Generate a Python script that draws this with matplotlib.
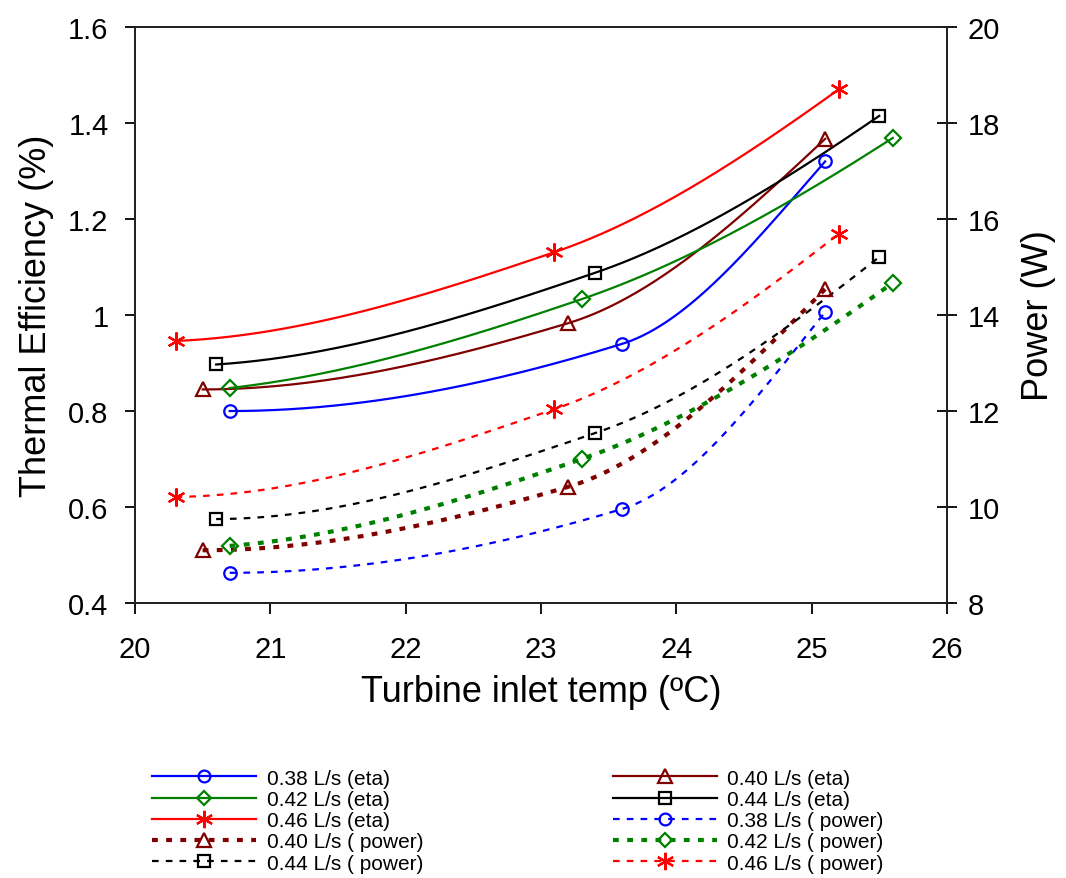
import numpy as np
import matplotlib
matplotlib.use("Agg")
import matplotlib.pyplot as plt
from matplotlib.lines import Line2D

plt.rcParams['font.family'] = ['Liberation Sans', 'DejaVu Sans']

# ---- data ----
x_038 = [20.7, 23.6, 25.1]
x_040 = [20.5, 23.2, 25.1]
x_042 = [20.7, 23.3, 25.6]
x_044 = [20.6, 23.4, 25.5]
x_046 = [20.3, 23.1, 25.2]

eta_038 = [0.80, 0.94, 1.32]
eta_040 = [0.845, 0.983, 1.367]
eta_042 = [0.848, 1.033, 1.369]
eta_044 = [0.897, 1.088, 1.415]
eta_046 = [0.946, 1.131, 1.470]

pow_038 = [8.63, 9.96, 14.06]
pow_040 = [9.10, 10.42, 14.54]
pow_042 = [9.19, 11.00, 14.67]
pow_044 = [9.75, 11.54, 15.21]
pow_046 = [10.21, 12.04, 15.69]

x_ticks = [20, 21, 22, 23, 24, 25, 26]
eta_ticks = [0.4, 0.6, 0.8, 1.0, 1.2, 1.4, 1.6]
eta_tick_labels = ['0.4', '0.6', '0.8', '1', '1.2', '1.4', '1.6']
pow_ticks = [8, 10, 12, 14, 16, 18, 20]


def pchip(x, y, n=200):
    """Monotone cubic Hermite curve through the points (for drawing)."""
    x = np.asarray(x, float)
    y = np.asarray(y, float)
    h = np.diff(x)
    d = np.diff(y) / h
    m = np.zeros_like(y)
    for k in range(1, len(x) - 1):
        if d[k - 1] * d[k] > 0:
            w1 = 2 * h[k] + h[k - 1]
            w2 = h[k] + 2 * h[k - 1]
            m[k] = (w1 + w2) / (w1 / d[k - 1] + w2 / d[k])

    def end(h0, h1, d0, d1):
        s = ((2 * h0 + h1) * d0 - h0 * d1) / (h0 + h1)
        if np.sign(s) != np.sign(d0):
            s = 0.0
        elif np.sign(d0) != np.sign(d1) and abs(s) > abs(3 * d0):
            s = 3 * d0
        return s
    m[0] = end(h[0], h[1], d[0], d[1])
    m[-1] = end(h[-1], h[-2], d[-1], d[-2])
    xs = np.linspace(x[0], x[-1], n)
    idx = np.clip(np.searchsorted(x, xs) - 1, 0, len(x) - 2)
    t = (xs - x[idx]) / h[idx]
    h00 = 2 * t**3 - 3 * t**2 + 1
    h10 = t**3 - 2 * t**2 + t
    h01 = -2 * t**3 + 3 * t**2
    h11 = t**3 - t**2
    ys = h00 * y[idx] + h10 * h[idx] * m[idx] + h01 * y[idx + 1] + h11 * h[idx] * m[idx + 1]
    return xs, ys


fig = plt.figure(figsize=(10.66, 8.79), dpi=100)
ax = fig.add_axes([0.1266, 0.3128, 0.7617, 0.6553])
ax2 = ax.twinx()

blue = '#0000FF'
brown = '#800000'
green = '#008000'
black = '#000000'
red = '#FF0000'
star = (6, 2, 0)

thin_dash = (0, (3.0, 3.2))
thick_dash = (0, (1.4, 2.0))

eta_series = [
    (x_038, eta_038, blue, 'o', '0.38 L/s (eta)'),
    (x_040, eta_040, brown, '^', '0.40 L/s (eta)'),
    (x_042, eta_042, green, 'D', '0.42 L/s (eta)'),
    (x_044, eta_044, black, 's', '0.44 L/s (eta)'),
    (x_046, eta_046, red, star, '0.46 L/s (eta)'),
]
pow_series = [
    (x_038, pow_038, blue, 'o', '0.38 L/s ( power)', 1.6, thin_dash),
    (x_040, pow_040, brown, '^', '0.40 L/s ( power)', 3.0, thick_dash),
    (x_042, pow_042, green, 'D', '0.42 L/s ( power)', 3.0, thick_dash),
    (x_044, pow_044, black, 's', '0.44 L/s ( power)', 1.6, thin_dash),
    (x_046, pow_046, red, star, '0.46 L/s ( power)', 1.6, thin_dash),
]

MS = {'o': 9, 's': 9, '^': 10, 'D': 8, star: 13}

handles = {}
for xs, ys, c, mk, lab in eta_series:
    cx, cy = pchip(xs, ys)
    ax.plot(cx, cy, color=c, lw=1.6, zorder=3)
    ax.plot(xs, ys, ls='none', marker=mk, ms=MS[mk], mfc='none', mec=c, mew=1.6, zorder=4)
    handles[lab] = Line2D([], [], color=c, lw=1.6, marker=mk, ms=MS[mk] - 0.5,
                          mfc='none', mec=c, mew=1.6)

for xs, ys, c, mk, lab, lw, ls in pow_series:
    cx, cy = pchip(xs, ys)
    ax2.plot(cx, cy, color=c, lw=lw, ls=ls, zorder=3)
    ax2.plot(xs, ys, ls='none', marker=mk, ms=MS[mk], mfc='none', mec=c, mew=1.6, zorder=4)
    handles[lab] = Line2D([], [], color=c, lw=lw, ls=ls, marker=mk, ms=MS[mk] - 0.5,
                          mfc='none', mec=c, mew=1.6)

ax.set_xlim(20, 26)
ax.set_ylim(0.4, 1.6)
ax2.set_ylim(8, 20)
ax.set_xticks(x_ticks)
ax.set_yticks(eta_ticks)
ax.set_yticklabels(eta_tick_labels)
ax2.set_yticks(pow_ticks)

for a in (ax, ax2):
    for s in a.spines.values():
        s.set_linewidth(1.3)
        s.set_color('#222222')

ax.tick_params(axis='x', direction='out', length=8, width=1.3, labelsize=21, pad=15)
ax.tick_params(axis='y', direction='out', length=7, width=1.3, labelsize=21, pad=12)
ax2.tick_params(axis='y', direction='inout', length=14, width=1.3, labelsize=21, pad=8)

ax.set_xlabel('Turbine inlet temp (ºC)', fontsize=26, labelpad=8)
ax.set_ylabel('Thermal Efficiency (%)', fontsize=26, labelpad=10)
ax2.set_ylabel('Power (W)', fontsize=26, labelpad=15)

order_left = ['0.38 L/s (eta)', '0.42 L/s (eta)', '0.46 L/s (eta)',
              '0.40 L/s ( power)', '0.44 L/s ( power)']
order_right = ['0.40 L/s (eta)', '0.44 L/s (eta)', '0.38 L/s ( power)',
               '0.42 L/s ( power)', '0.46 L/s ( power)']
labs = order_left + order_right
leg = fig.legend([handles[l] for l in labs], labs, ncol=2,
                 loc='upper left', bbox_to_anchor=(0.135, 0.134),
                 frameon=False, fontsize=15, handlelength=5.0,
                 handletextpad=0.5, columnspacing=9.1, labelspacing=0.11,
                 borderaxespad=0)

fig.savefig('out.png', dpi=100)
